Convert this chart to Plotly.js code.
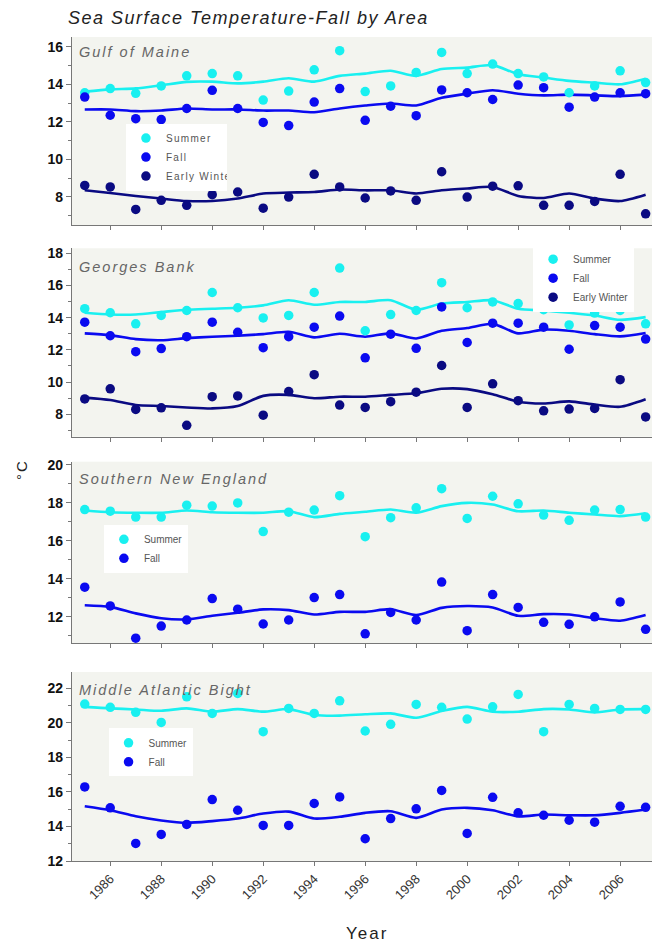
<!DOCTYPE html>
<html>
<head>
<meta charset="utf-8">
<script src="https://cdn.plot.ly/plotly-3.0.1.min.js"></script>
<style>
html,body{margin:0;padding:0;background:#fff;}
#chart{width:652px;height:945px;}
#chart .gtitle{letter-spacing:1.5px;}
#chart .annotation-text{letter-spacing:2px;}
#chart .legendtext{letter-spacing:1.3px;}
</style>
</head>
<body>
<div id="chart"></div>
<script>
// ---- data ----
const years = [1985,1986,1987,1988,1989,1990,1991,1992,1993,1994,1995,1996,1997,1998,1999,2000,2001,2002,2003,2004,2005,2006,2007];
const xTickVals = [1986,1988,1990,1992,1994,1996,1998,2000,2002,2004,2006];
const seriesNames = ["Summer","Fall","Early Winter"];
const panelNames = ["Gulf of Maine","Georges Bank","Southern New England","Middle Atlantic Bight"];

const gomSummer = [13.55,13.77,13.52,13.91,14.45,14.57,14.45,13.16,13.64,14.77,15.79,13.61,13.91,14.63,15.70,14.57,15.08,14.57,14.39,13.55,13.91,14.72,14.09];
const gomSummerTrend = [13.61,13.73,13.78,13.95,14.13,14.14,14.05,14.14,14.32,14.14,14.45,14.57,14.72,14.45,14.81,14.89,15.02,14.54,14.36,14.18,14.09,14.0,14.3];
const gomFall = [13.32,12.35,12.17,12.12,12.71,13.68,12.71,11.97,11.80,13.05,13.77,12.08,12.83,12.33,13.70,13.55,13.19,13.96,13.82,12.78,13.32,13.55,13.5];
const gomFallTrend = [12.66,12.66,12.57,12.6,12.71,12.66,12.66,12.6,12.6,12.51,12.71,12.87,12.98,12.87,13.28,13.5,13.68,13.5,13.41,13.45,13.41,13.37,13.45];
const gomEW = [8.61,8.53,7.33,7.82,7.55,8.12,8.26,7.40,7.99,9.20,8.53,7.94,8.32,7.82,9.34,7.99,8.57,8.59,7.55,7.55,7.76,9.2,7.1];
const gomEWTrend = [8.35,8.21,8.05,7.91,7.78,7.78,7.91,8.18,8.23,8.26,8.39,8.35,8.35,8.18,8.35,8.45,8.53,8.05,7.94,8.18,7.91,7.78,8.12];

const gbSummer = [14.56,14.31,13.62,14.14,14.45,15.57,14.62,13.99,14.14,15.57,17.09,13.19,14.2,14.45,16.18,14.62,14.98,14.88,14.5,13.55,14.29,14.45,13.62];
const gbSummerTrend = [14.31,14.2,14.2,14.35,14.5,14.56,14.62,14.77,15.09,14.81,14.98,14.98,15.09,14.5,14.88,14.98,15.09,14.56,14.45,14.31,14.14,13.87,14.04];
const gbFall = [13.72,12.88,11.89,12.08,12.82,13.72,13.09,12.14,12.82,13.41,14.1,11.51,12.98,12.1,14.67,12.46,13.66,13.66,13.41,12.04,13.51,13.41,12.67];
const gbFallTrend = [13.03,12.92,12.67,12.6,12.73,12.82,12.88,12.98,13.13,12.78,13.0,12.82,13.03,12.71,13.19,13.36,13.62,13.03,13.26,13.19,12.98,12.84,13.05];
const gbEW = [8.95,9.58,8.3,8.4,7.31,9.09,9.14,7.94,9.41,10.46,8.57,8.42,8.78,9.37,11.03,8.42,9.89,8.84,8.21,8.32,8.36,10.15,7.83];
const gbEWTrend = [9.03,8.88,8.57,8.51,8.42,8.36,8.51,9.14,9.2,8.99,9.09,9.09,9.2,9.3,9.58,9.56,9.24,8.78,8.67,8.8,8.6,8.46,8.93];

const sneSummer = [17.65,17.56,17.25,17.25,17.88,17.83,18.0,16.49,17.51,17.62,18.38,16.22,17.22,17.74,18.75,17.18,18.35,17.95,17.36,17.08,17.62,17.65,17.25];
const sneSummerTrend = [17.6,17.51,17.48,17.48,17.6,17.51,17.48,17.48,17.56,17.25,17.42,17.53,17.65,17.48,17.83,18.0,17.91,17.56,17.6,17.48,17.39,17.3,17.45];
const sneFall = [13.56,12.57,10.87,11.51,11.83,12.96,12.4,11.62,11.83,13.01,13.17,11.1,12.23,11.83,13.83,11.27,13.17,12.49,11.71,11.6,12.0,12.78,11.34];
const sneFallTrend = [12.61,12.52,12.18,11.92,11.86,12.05,12.21,12.39,12.35,12.12,12.26,12.26,12.4,12.09,12.47,12.57,12.49,12.05,12.14,12.12,11.92,11.79,12.09];

const mabSummer = [21.09,20.9,20.61,20.03,21.51,20.55,21.71,19.49,20.84,20.55,21.28,19.53,19.92,21.07,20.9,20.22,20.93,21.65,19.49,21.07,20.84,20.78,20.78];
const mabSummerTrend = [20.93,20.84,20.78,20.7,20.84,20.65,20.8,20.65,20.8,20.46,20.42,20.5,20.55,20.3,20.69,20.93,20.65,20.65,20.8,20.78,20.61,20.78,20.8];
const mabFall = [16.29,15.08,13.02,13.54,14.12,15.56,14.94,14.06,14.06,15.33,15.71,13.29,14.46,15.02,16.09,13.6,15.69,14.79,14.65,14.36,14.25,15.17,15.11];
const mabFallTrend = [15.17,14.94,14.59,14.35,14.21,14.31,14.46,14.75,14.86,14.46,14.56,14.79,14.88,14.5,14.98,15.08,14.94,14.59,14.69,14.65,14.65,14.79,14.98];

// ---- styling ----
const colors = ["#19f0f0", "#0a0af0", "#0a0a82"];
const FONT = "Liberation Sans, Arial, sans-serif";

const panels = [
  {name: panelNames[0], pts: [gomSummer, gomFall, gomEW], trends: [gomSummerTrend, gomFallTrend, gomEWTrend],
   dom: [0.7718, 1], range: [6.5, 16.52], legend: {x: 0.093, y: 0.895}, lshift: -2},
  {name: panelNames[1], pts: [gbSummer, gbFall, gbEW], trends: [gbSummerTrend, gbFallTrend, gbEWTrend],
   dom: [0.5149, 0.7436], range: [6.6, 18.32], legend: {x: 0.795, y: 0.748}, lshift: -6},
  {name: panelNames[2], pts: [sneSummer, sneFall], trends: [sneSummerTrend, sneFallTrend],
   dom: [0.2646, 0.4846], range: [10.62, 20.17], legend: {x: 0.055, y: 0.408}, lshift: -5},
  {name: panelNames[3], pts: [mabSummer, mabFall], trends: [mabSummerTrend, mabFallTrend],
   dom: [0, 0.2294], range: [12, 22.95], legend: {x: 0.063, y: 0.161}, lshift: -5}
];

const traces = [];
const layout = {
  width: 652, height: 945,
  margin: {l: 72, r: 0, t: 37, b: 84},
  paper_bgcolor: "#ffffff",
  plot_bgcolor: "#f3f4ef",
  font: {family: FONT, color: "#222"},
  title: {text: "Sea Surface Temperature-Fall by Area", x: 68/652, xanchor: "left", xref: "container",
          y: 1 - 18/945, yanchor: "middle", yref: "container",
          font: {family: FONT, size: 18, style: "italic", color: "#222"}},
  showlegend: true,
  annotations: [],
  shapes: []
};

panels.forEach((p, i) => {
  const n = i + 1;
  const xa = n === 1 ? "x" : "x" + n;
  const ya = n === 1 ? "y" : "y" + n;
  const lg = n === 1 ? "legend" : "legend" + n;
  p.trends.forEach((t, k) => {
    traces.push({x: years, y: t, xaxis: xa, yaxis: ya, type: "scatter", mode: "lines",
      line: {color: colors[k], width: 2.6, shape: "spline", smoothing: 0.7},
      showlegend: false, hoverinfo: "skip"});
  });
  p.pts.forEach((v, k) => {
    traces.push({x: years, y: v, xaxis: xa, yaxis: ya, type: "scatter", mode: "markers",
      name: seriesNames[k], legend: lg,
      marker: {color: colors[k], size: 9.5}});
  });
  layout["xaxis" + (n === 1 ? "" : n)] = {
    anchor: ya, domain: [0, 1], range: [1984.5, 2007.25],
    tickmode: "array", tickvals: xTickVals,
    ticks: "outside", ticklen: 4, tickcolor: "#777", tickwidth: 1,
    showline: true, linecolor: "#777", linewidth: 1.2, mirror: false,
    showgrid: false, zeroline: false,
    showticklabels: n === 4, tickangle: -45,
    tickfont: {family: FONT, size: 13, color: "#333"}
  };
  layout["yaxis" + (n === 1 ? "" : n)] = {
    anchor: xa, domain: p.dom, range: p.range,
    tickmode: "linear", tick0: 0, dtick: 2,
    ticks: "outside", ticklen: 5, tickcolor: "#777", tickwidth: 1,
    minor: {dtick: 1, ticks: "outside", ticklen: 3, tickcolor: "#777", tickwidth: 1, showgrid: false},
    showline: true, linecolor: "#777", linewidth: 1.2, mirror: false,
    showgrid: false, zeroline: false,
    tickfont: {family: FONT, size: 14, color: "#111", weight: "bold"}
  };
  layout[lg] = {
    x: p.legend.x, y: p.legend.y, xanchor: "left", yanchor: "top",
    xref: "paper", yref: "paper",
    bgcolor: "#ffffff", borderwidth: 0,
    font: {family: FONT, size: 10, color: "#555"},
    itemwidth: 30, tracegroupgap: 0, traceorder: "normal",
    itemclick: false, itemdoubleclick: false
  };
  layout.annotations.push({
    text: p.name, xref: xa + " domain", yref: ya + " domain",
    x: 0.01, y: 0.985, xanchor: "left", yanchor: "top", showarrow: false,
    yshift: p.lshift, xshift: p.name.length - 1,
    font: {family: FONT, size: 14.5, style: "italic", color: "#666"}
  });
});

layout.annotations.push({
  text: "°C", xref: "paper", yref: "paper", x: (22 - 72) / 580, y: (861 - 470) / 824,
  xanchor: "center", yanchor: "middle", textangle: -90, showarrow: false,
  font: {family: FONT, size: 15, color: "#222"}
});
layout.annotations.push({
  text: "Year", xref: "paper", yref: "paper", x: (367 - 72) / 580, y: (861 - 933) / 824,
  xanchor: "center", yanchor: "middle", showarrow: false,
  font: {family: FONT, size: 17, color: "#222"}
});

Plotly.newPlot("chart", traces, layout, {displayModeBar: false, staticPlot: true});
</script>
</body>
</html>
